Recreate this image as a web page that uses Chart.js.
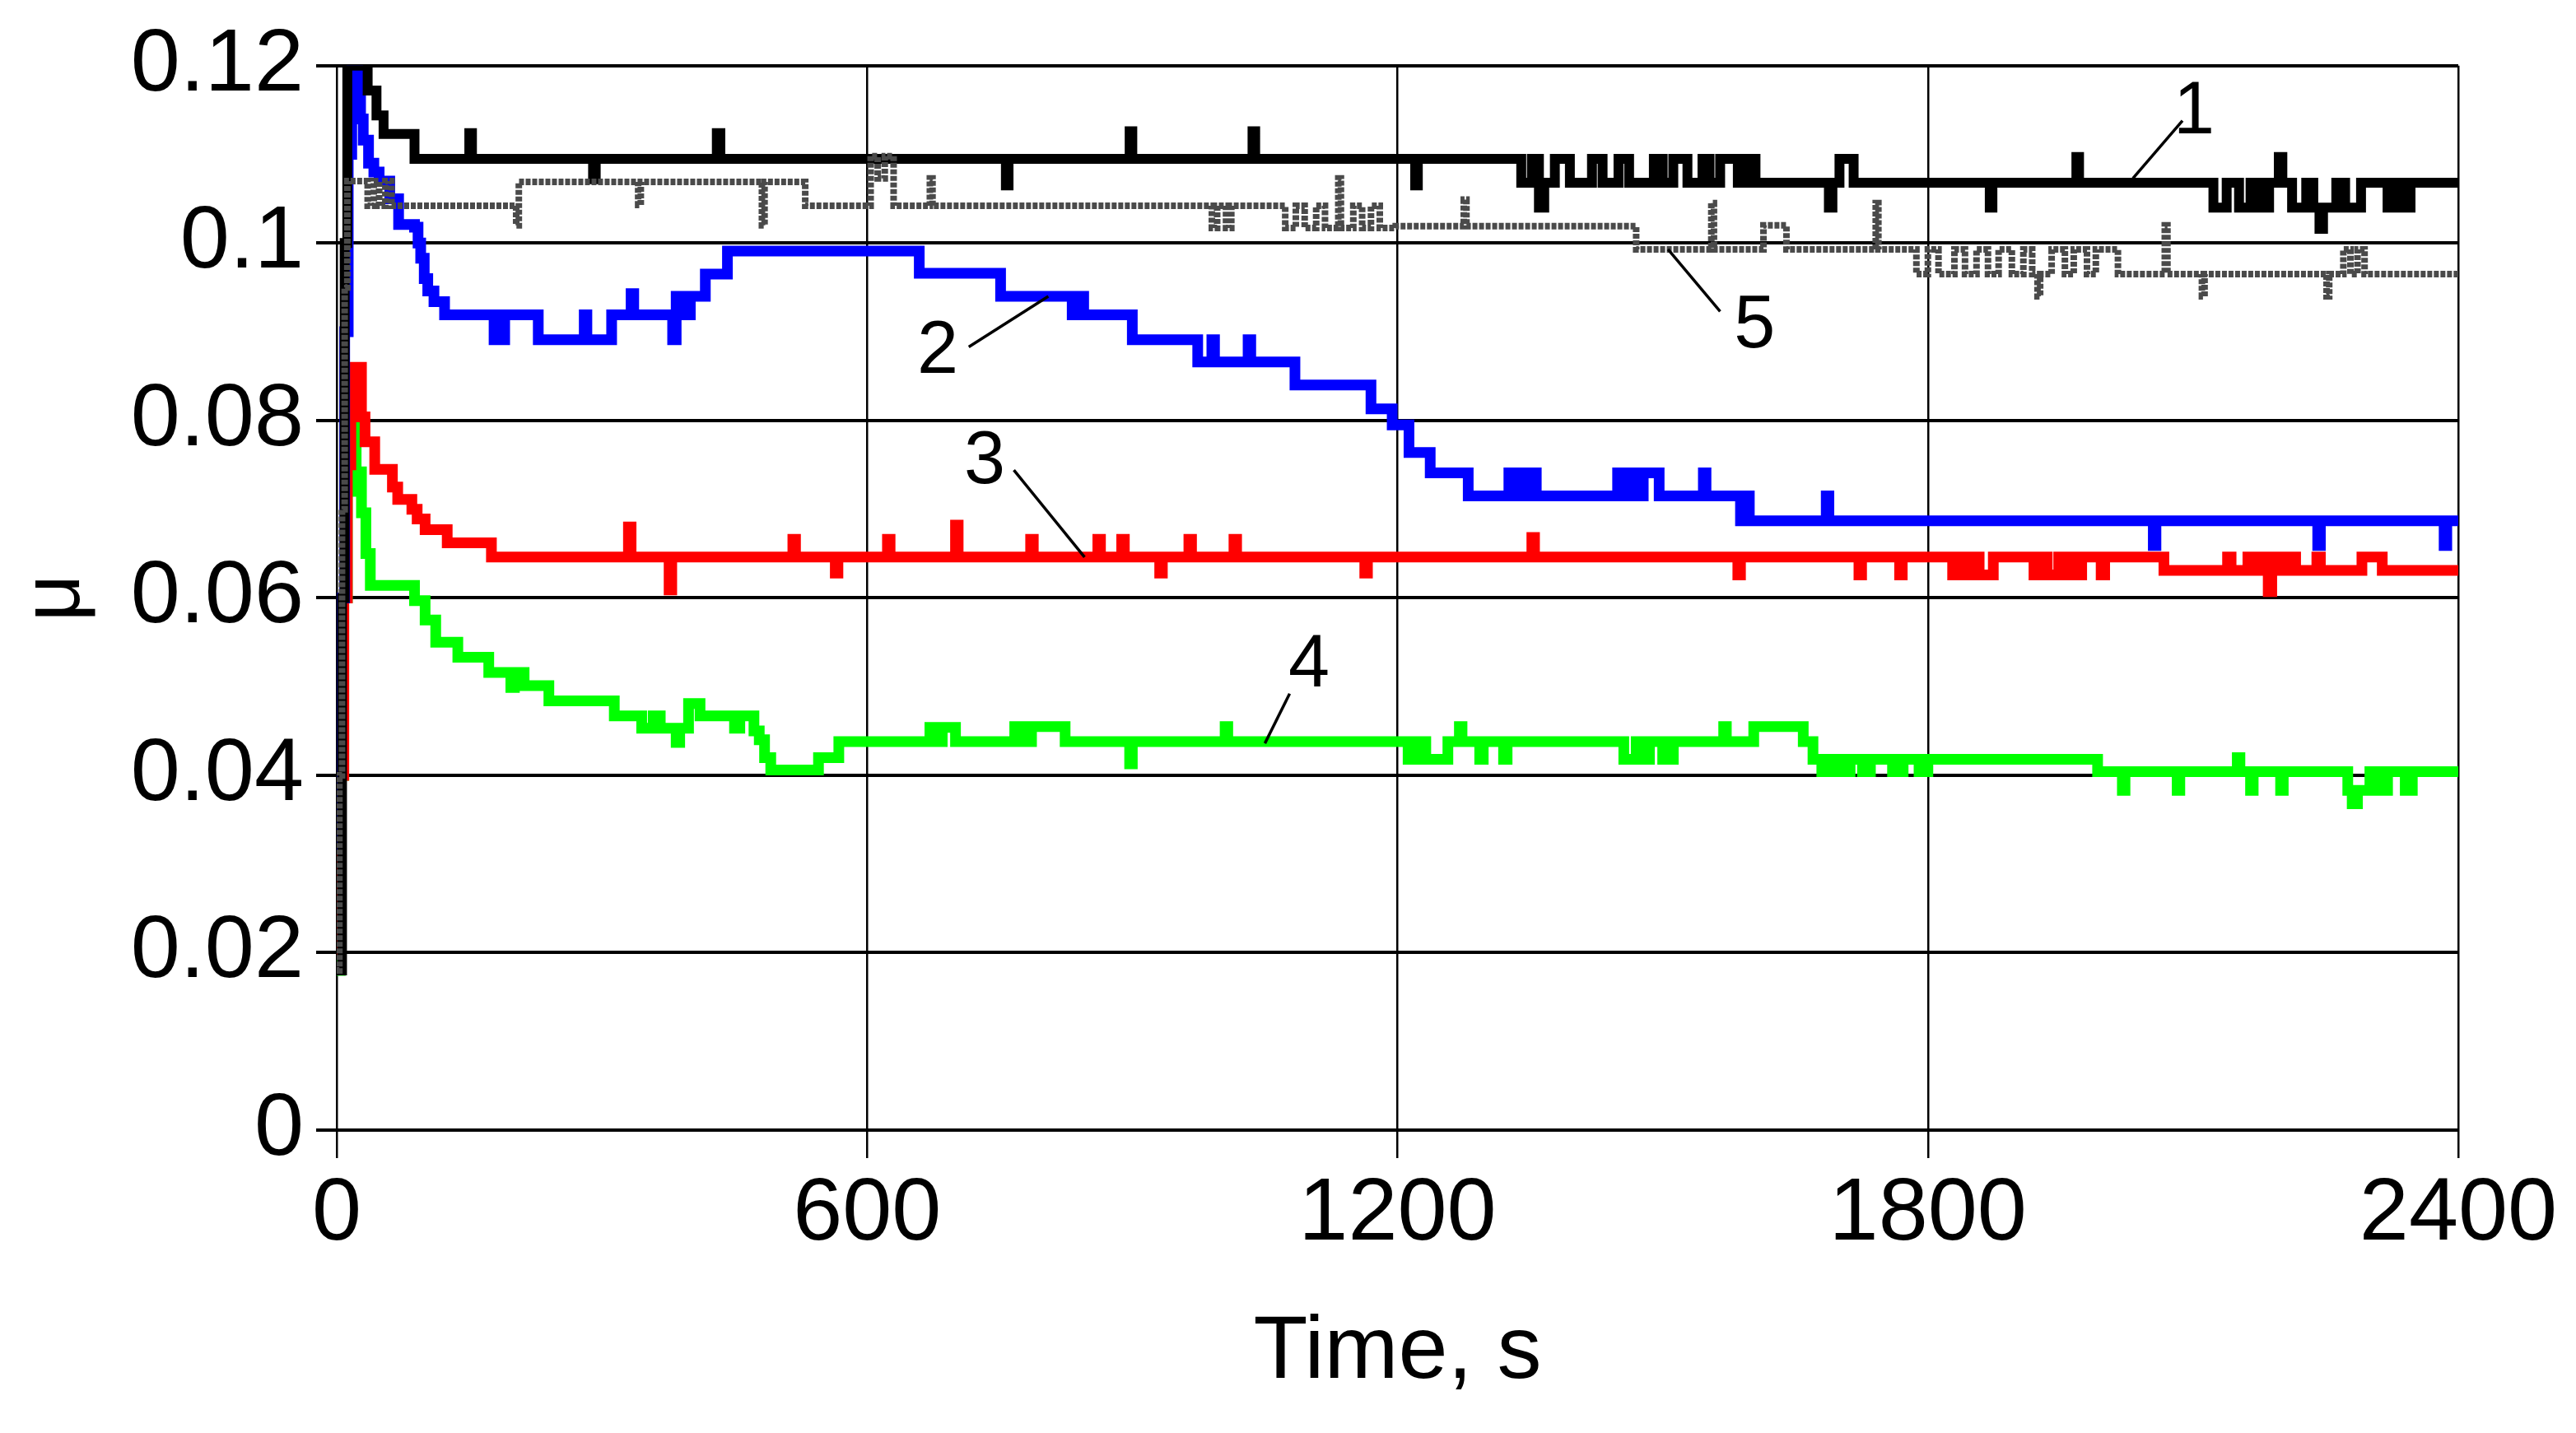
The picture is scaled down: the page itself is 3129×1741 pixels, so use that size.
<!DOCTYPE html>
<html><head><meta charset="utf-8">
<script src="https://cdn.jsdelivr.net/npm/chart.js@4.4.0/dist/chart.umd.min.js"></script>
<style>html,body{margin:0;padding:0;background:#fff;}canvas{display:block;}</style>
</head><body>
<canvas id="c" width="3129" height="1741"></canvas>
<script>
// ---- axis ticks & titles ----
const xTicks = [0, 600, 1200, 1800, 2400];
const xTickLabels = ['0', '600', '1200', '1800', '2400'];
const yTicks = [0, 0.02, 0.04, 0.06, 0.08, 0.1, 0.12];
const yTickLabels = ['0', '0.02', '0.04', '0.06', '0.08', '0.1', '0.12'];
const xTitle = 'Time, s';
const yTitle = 'μ';

// ---- series values: [time s, μ] (value holds until next point) ----
const curve1 = [[0,0.018],[6,0.06],[9,0.1],[12,0.12],[35,0.1172],[45,0.1144],[53,0.1123],[88,0.1095],
 [150,0.1124],[153,0.1095],[290,0.1072],[293,0.1095],[430,0.1124],[434,0.1095],
 [757,0.1065],[760,0.1095],[897,0.1126],[900,0.1095],[1036,0.1126],[1039,0.1095],
 [1220,0.1065],[1223,0.1095],
 [1340,0.1068],[1352,0.1095],[1360,0.104],[1366,0.1068],[1378,0.1095],[1395,0.1068],[1420,0.1095],[1432,0.1068],[1450,0.1095],[1462,0.1068],[1490,0.1095],[1500,0.1068],[1512,0.1095],[1528,0.1068],[1545,0.1095],[1553,0.1068],[1565,0.1095],[1585,0.1068],[1595,0.1095],[1605,0.1068],
 [1688,0.104],[1692,0.1068],[1700,0.1095],[1716,0.1068],[1870,0.104],[1873,0.1068],[1968,0.1097],[1971,0.1068],
 [2123,0.104],[2138,0.1068],[2152,0.104],[2165,0.1068],[2175,0.104],[2186,0.1068],[2197,0.1097],[2201,0.1068],[2212,0.104],[2228,0.1068],[2236,0.104],[2243,0.1016],[2247,0.104],[2262,0.1068],[2272,0.104],[2290,0.1068],[2320,0.104],[2328,0.1068],[2338,0.104],[2346,0.1068],[2400,0.1068]];

const curve2 = [[0,0.032],[5,0.06],[9,0.09],[13,0.11],[17,0.1197],[24,0.1166],[27,0.114],[30,0.1116],[36,0.109],[42,0.108],[48,0.107],[60,0.105],[70,0.1021],[88,0.1018],[92,0.1],[95,0.0983],[99,0.096],[103,0.0946],[110,0.0934],[122,0.0919],
 [178,0.0891],[190,0.0919],[228,0.0891],[280,0.0919],[283,0.0891],[311,0.0919],[333,0.0943],[336,0.0919],[380,0.0891],[384,0.094],[393,0.0919],[400,0.094],[417,0.0965],[442,0.0991],
 [659,0.0966],[751,0.094],[832,0.0919],[838,0.094],[845,0.0919],[900,0.0891],[974,0.0866],[990,0.0891],[993,0.0866],[1031,0.0891],[1034,0.0866],[1084,0.084],
 [1170,0.0813],[1194,0.0795],[1213,0.0764],[1237,0.0741],[1280,0.0715],[1326,0.0741],[1331,0.0715],[1340,0.0741],[1345,0.0715],[1352,0.0741],[1357,0.0715],
 [1449,0.0741],[1455,0.0715],[1462,0.0741],[1470,0.0715],[1478,0.0741],[1496,0.0715],[1546,0.0741],[1549,0.0715],[1588,0.0687],[1592,0.0715],[1598,0.0687],[1685,0.0715],[1688,0.0687],
 [2055,0.0659],[2058,0.0687],[2241,0.0659],[2244,0.0687],[2384,0.0659],[2387,0.0687],[2400,0.0687]];

const curve3 = [[0,0.02],[4,0.04],[8,0.06],[12,0.075],[16,0.086],[28,0.0804],[32,0.0776],[43,0.0745],[63,0.0725],[69,0.0711],[85,0.07],[91,0.0689],[100,0.0677],[125,0.0662],[175,0.0646],
 [330,0.068],[333,0.0646],[376,0.0609],[379,0.0646],[516,0.0666],[519,0.0646],[564,0.0628],[567,0.0646],[623,0.0666],[626,0.0646],[700,0.0682],[703,0.0646],
 [785,0.0666],[788,0.0646],[861,0.0666],[864,0.0646],[888,0.0666],[891,0.0646],[931,0.0628],[934,0.0646],[964,0.0666],[967,0.0646],[1015,0.0666],[1018,0.0646],
 [1163,0.0628],[1166,0.0646],[1352,0.0668],[1355,0.0646],[1585,0.0626],[1588,0.0646],[1722,0.0626],[1725,0.0646],[1768,0.0626],[1771,0.0646],
 [1828,0.0626],[1838,0.0646],[1843,0.0626],[1852,0.0646],[1858,0.0626],[1874,0.0646],[1920,0.0626],[1930,0.0646],[1935,0.0626],[1948,0.0646],[1953,0.0626],[1962,0.0646],[1968,0.0626],[1974,0.0646],[1996,0.0626],[2000,0.0646],
 [2067,0.0631],[2139,0.0646],[2143,0.0631],[2162,0.0646],[2170,0.0631],[2175,0.0646],[2185,0.0607],[2189,0.0646],[2200,0.0631],[2206,0.0646],[2216,0.0631],[2240,0.0646],[2244,0.0631],[2291,0.0646],[2314,0.0631],[2400,0.0631]];

const curve4 = [[0,0.018],[4,0.04],[8,0.06],[12,0.072],[17,0.0795],[22,0.0742],[28,0.0696],[33,0.065],[38,0.0614],[88,0.0597],[100,0.0575],[112,0.055],[137,0.0533],[172,0.0516],[197,0.0499],[201,0.0516],[212,0.0501],[240,0.0484],[314,0.0467],
 [345,0.0453],[358,0.0467],[366,0.0453],[384,0.0437],[388,0.0453],[398,0.0481],[411,0.0467],[450,0.0453],[456,0.0467],[472,0.045],[478,0.044],[484,0.042],[491,0.0406],[545,0.042],[568,0.0438],
 [671,0.0454],[680,0.0438],[685,0.0454],[700,0.0438],[767,0.0455],[778,0.0438],[786,0.0455],[824,0.0438],[897,0.0413],[900,0.0438],[1005,0.0455],[1008,0.0438],
 [1212,0.0418],[1222,0.0438],[1232,0.0418],[1257,0.0438],[1270,0.0455],[1273,0.0438],[1293,0.0418],[1297,0.0438],[1320,0.0418],[1324,0.0438],
 [1456,0.0418],[1470,0.0438],[1478,0.0418],[1485,0.0438],[1500,0.0418],[1512,0.0438],[1569,0.0455],[1572,0.0438],[1603,0.0455],[1659,0.0438],
 [1670,0.0418],[1680,0.0404],[1690,0.0418],[1700,0.0404],[1712,0.0418],[1726,0.0404],[1735,0.0418],[1760,0.0404],[1772,0.0418],[1790,0.0404],[1800,0.0418],
 [1992,0.0404],[2020,0.0383],[2023,0.0404],[2082,0.0383],[2085,0.0404],[2150,0.042],[2153,0.0404],[2165,0.0383],[2168,0.0404],[2199,0.0383],[2202,0.0404],
 [2275,0.0383],[2280,0.0368],[2286,0.0383],[2300,0.0404],[2310,0.0383],[2320,0.0404],[2340,0.0383],[2348,0.0404],[2400,0.0404]];

const curve5 = [[0,0.018],[3,0.04],[6,0.07],[9,0.095],[12,0.107],[35,0.1042],[42,0.107],[48,0.1042],[55,0.107],[62,0.1042],
 [203,0.102],[206,0.1069],[341,0.1043],[344,0.1069],[481,0.102],[484,0.1069],[530,0.1042],[604,0.1098],[612,0.1073],[620,0.1098],[630,0.1042],[671,0.1073],[674,0.1042],
 [990,0.1017],[996,0.1042],[1006,0.1017],[1012,0.1042],[1073,0.1017],[1085,0.1042],[1095,0.1017],[1108,0.1042],[1118,0.1017],[1133,0.1073],[1136,0.1017],[1150,0.1042],[1160,0.1017],[1170,0.1042],[1180,0.1017],[1198,0.1019],
 [1275,0.1049],[1278,0.1019],[1470,0.0993],[1555,0.1045],[1558,0.0993],[1614,0.102],[1640,0.0993],[1741,0.1045],[1744,0.0993],
 [1787,0.0965],[1800,0.0993],[1812,0.0965],[1830,0.0993],[1842,0.0965],[1855,0.0993],[1868,0.0965],[1880,0.0993],[1895,0.0965],[1908,0.0993],[1918,0.0965],[1924,0.094],[1927,0.0965],[1940,0.0993],[1955,0.0965],[1965,0.0993],[1980,0.0965],[1990,0.0993],[2015,0.0965],
 [2068,0.102],[2071,0.0965],[2110,0.094],[2113,0.0965],[2251,0.094],[2254,0.0965],[2270,0.0993],[2278,0.0965],[2286,0.0993],[2294,0.0965],[2400,0.0965]];

// ---- curve labels (numbers) with leader lines, in data coordinates ----
const labelText = ['1', '2', '3', '4', '5'];
const labelAt = [[2101, 0.1154], [680, 0.0884], [733, 0.0759], [1100, 0.0530], [1604, 0.0912]];
const leaderFrom = [[2032, 0.1073], [715, 0.0883], [766, 0.0744], [1078, 0.0492], [1506, 0.0993]];
const leaderTo = [[2088, 0.1138], [805, 0.0940], [846, 0.0646], [1050, 0.0436], [1565, 0.0923]];

const FONT = "'Liberation Sans', Arial, sans-serif";

function mk(curve, color, width, order, dash) {
  return {
    data: curve.map(p => ({x: p[0], y: p[1]})),
    borderColor: color, backgroundColor: color, borderWidth: width,
    pointRadius: 0, stepped: true, fill: false, order: order,
    borderDash: dash || [], borderJoinStyle: 'miter', borderCapStyle: 'butt'
  };
}

const labelPlugin = {
  id: 'curveLabels',
  afterDatasetsDraw(chart) {
    const {ctx, scales: {x, y}} = chart;
    ctx.save();
    ctx.strokeStyle = '#000';
    ctx.lineWidth = 3.5;
    for (let i = 0; i < labelText.length; i++) {
      ctx.beginPath();
      ctx.moveTo(x.getPixelForValue(leaderFrom[i][0]), y.getPixelForValue(leaderFrom[i][1]));
      ctx.lineTo(x.getPixelForValue(leaderTo[i][0]), y.getPixelForValue(leaderTo[i][1]));
      ctx.stroke();
    }
    const size = 90;
    ctx.font = size + 'px ' + FONT;
    ctx.fillStyle = '#000';
    ctx.textAlign = 'center';
    ctx.textBaseline = 'alphabetic';
    for (let i = 0; i < labelText.length; i++) {
      const px = x.getPixelForValue(labelAt[i][0]);
      const py = y.getPixelForValue(labelAt[i][1]);
      ctx.fillText(labelText[i], px, py + size * 0.358);
    }
    ctx.restore();
  }
};

new Chart(document.getElementById('c'), {
  type: 'line',
  data: {
    datasets: [
      mk(curve5, '#4a4a4a', 8, 0, [6, 2]),
      mk(curve1, '#000000', 12, 1),
      mk(curve2, '#0000ff', 13, 2),
      mk(curve3, '#ff0000', 13, 3),
      mk(curve4, '#00ff00', 13, 4)
    ]
  },
  options: {
    responsive: false,
    devicePixelRatio: 1,
    animation: false,
    events: [],
    layout: {padding: {left: 0, top: 79, right: 143, bottom: 0}},
    plugins: {legend: {display: false}, tooltip: {enabled: false}},
    scales: {
      x: {
        type: 'linear', min: 0, max: 2400,
        afterBuildTicks: s => { s.ticks = xTicks.map(v => ({value: v})); },
        afterFit: s => { s.height = 368; },
        ticks: {
          callback: v => xTickLabels[xTicks.indexOf(v)],
          font: {family: FONT, size: 108}, color: '#000', padding: 4,
          maxRotation: 0, minRotation: 0, autoSkip: false
        },
        grid: {color: '#000', lineWidth: 2.5, tickLength: 34, drawTicks: true},
        border: {display: false},
        title: {display: true, text: xTitle, color: '#000', font: {family: FONT, size: 108}, padding: {top: 0, bottom: 32}}
      },
      y: {
        type: 'linear', min: 0, max: 0.12,
        afterBuildTicks: s => { s.ticks = yTicks.map(v => ({value: v})); },
        afterFit: s => { s.width = 409; },
        ticks: {
          callback: v => yTickLabels[yTicks.indexOf(v)],
          font: {family: FONT, size: 108}, color: '#000', padding: 15, autoSkip: false
        },
        grid: {color: '#000', lineWidth: 4, tickLength: 25, drawTicks: true},
        border: {display: false},
        title: {display: true, text: yTitle, color: '#000', font: {family: FONT, size: 100}, padding: {top: 8, bottom: 0}}
      }
    }
  },
  plugins: [labelPlugin]
});
</script>
</body></html>
